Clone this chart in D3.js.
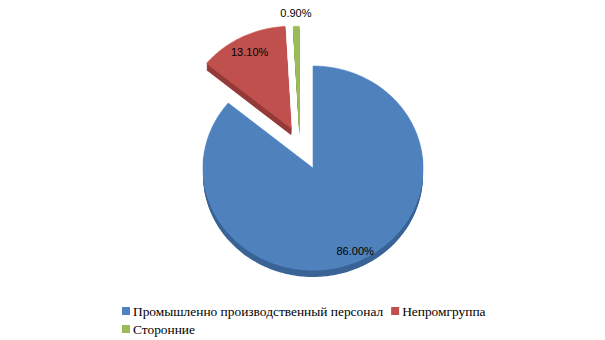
<!DOCTYPE html>
<meta charset="utf-8">
<style>
body { margin: 0; background: #fff; }
.lbl { font-family: "Liberation Sans", sans-serif; font-size: 11px; fill: #000; }
.leg text { font-family: "Liberation Serif", serif; font-size: 13.4px; fill: #000; }
</style>
<svg width="605" height="340"></svg>
<script src="https://d3js.org/d3.v7.min.js"></script>
<script>

// data
var categories = ["Промышленно производственный персонал", "Непромгруппа", "Сторонние"];
var values = [86.0, 13.1, 0.9];
var labels = ["86.00%", "13.10%", "0.90%"];

// styles
var top_colours = ["#4f81bd", "#c0504d", "#9bbb59"];
var side_colours = ["#3a6496", "#943c3a", "#77913f"];
var explode = [0, 48, 45];          // how far each slice is pulled out
var explode_turn = [0, 0, -16];     // degrees, nudges the pull direction
var label_out = [false, false, true];

var svg = d3.select("svg");
var cx = 313, cy = 168, rx = 110, ry = 102, depth = 7;
var k = ry / rx;

var pie = d3.pie().sort(null).value(function(d) { return d; });
var arcs = pie(values);

// point on the tilted pie, angle clockwise from 12 o'clock
function pt(ox, oy, a, r) {
  return [ox + r * Math.sin(a), oy - r * Math.cos(a) * k];
}

function slicePath(ox, oy, a0, a1) {
  var n = Math.max(2, Math.ceil((a1 - a0) / 0.02));
  var pts = [[ox, oy]];
  for (var i = 0; i <= n; i++) pts.push(pt(ox, oy, a0 + (a1 - a0) * i / n, rx));
  return d3.line()(pts) + "Z";
}

var g = svg.append("g");

arcs.forEach(function(d, i) {
  var mid = (d.startAngle + d.endAngle) / 2;
  var dir = mid + explode_turn[i] * Math.PI / 180;
  var o = pt(cx, cy, dir, explode[i]);
  var sg = g.append("g");
  // extruded side
  for (var dd = depth; dd >= 1; dd--) {
    sg.append("path")
      .attr("d", slicePath(o[0], o[1] + dd, d.startAngle, d.endAngle))
      .attr("fill", side_colours[i]);
  }
  sg.append("path")
    .attr("d", slicePath(o[0], o[1], d.startAngle, d.endAngle))
    .attr("fill", top_colours[i])
    .attr("stroke", d3.color(top_colours[i]).brighter(0.25))
    .attr("stroke-width", 0.6);

  var lp = label_out[i] ? pt(o[0], o[1], mid, rx + 14) : pt(o[0], o[1], mid, rx * (i == 0 ? 0.9 : 0.84));
  g.append("text")
    .attr("class", "lbl")
    .attr("x", lp[0])
    .attr("y", lp[1])
    .attr("dy", "0.35em")
    .attr("text-anchor", "middle")
    .text(labels[i]);
});

// legend
var leg = svg.append("g").attr("class", "leg");
var rows = [[0, 1], [2]];
var row_y = [311, 329];
rows.forEach(function(row, r) {
  var x = 122;
  row.forEach(function(i) {
    leg.append("rect")
      .attr("x", x).attr("y", row_y[r] - 4)
      .attr("width", 8).attr("height", 8)
      .attr("fill", top_colours[i]);
    var t = leg.append("text")
      .attr("x", x + 11).attr("y", row_y[r] + 4.5)
      .text(categories[i]);
    x += 11 + t.node().getComputedTextLength() + 8;
  });
});

</script>
